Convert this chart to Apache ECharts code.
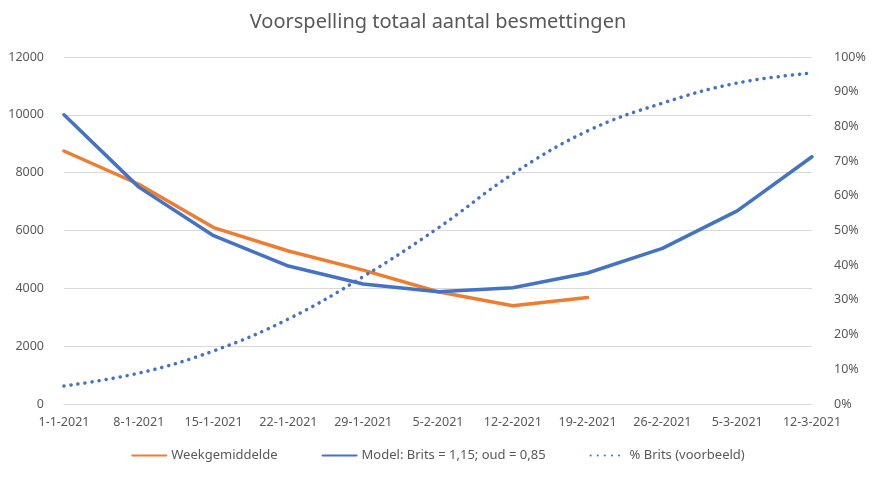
<!DOCTYPE html>
<html><head><meta charset="utf-8">
<script src="https://cdn.jsdelivr.net/npm/echarts@6/dist/echarts.min.js"></script>
<style>html,body{margin:0;padding:0;background:#fff}#c{width:876px;height:480px}</style>
</head><body><div id="c"></div>
<script>
const categories = ['1-1-2021','8-1-2021','15-1-2021','22-1-2021','29-1-2021','5-2-2021','12-2-2021','19-2-2021','26-2-2021','5-3-2021','12-3-2021'];
const weekgemiddelde = [8750, 7600, 6100, 5290, 4630, 3880, 3400, 3680, null, null, null];
const model = [10000, 7500, 5820, 4770, 4150, 3880, 4020, 4530, 5380, 6680, 8550];
const britsPct = [5.2, 8.9, 15.3, 24.5, 36.7, 50.7, 66.3, 78.7, 86.7, 92.5, 95.4];
const leftTicks = [0, 2000, 4000, 6000, 8000, 10000, 12000];

const font = 'Noto Sans';
const grey = '#595959';
const chart = echarts.init(document.getElementById('c'));
chart.setOption({
  animation: false,
  textStyle: {fontFamily: font},
  title: {text: 'Voorspelling totaal aantal besmettingen', left: 'center', top: 7,
    textStyle: {fontFamily: font, fontSize: 20, fontWeight: 'normal', color: grey}},
  grid: {left: 64, right: 64, top: 57, bottom: 76},
  legend: {bottom: 13, itemGap: 44, itemWidth: 34, itemHeight: 4,
    itemStyle: {opacity: 0},
    textStyle: {fontFamily: font, fontSize: 13, color: grey},
    data: ['Weekgemiddelde', 'Model: Brits = 1,15; oud = 0,85', '% Brits (voorbeeld)']},
  xAxis: {type: 'category', data: categories, boundaryGap: false,
    axisLine: {show: true, lineStyle: {color: '#d9d9d9'}}, axisTick: {show: false},
    axisLabel: {color: grey, fontSize: 12.5, margin: 12, fontFamily: font, interval: 0}},
  yAxis: [
    {type: 'value', min: leftTicks[0], max: leftTicks[leftTicks.length-1], interval: 2000,
      axisLabel: {color: grey, fontSize: 12.5, margin: 20, fontFamily: font, formatter: v => String(v)},
      splitLine: {lineStyle: {color: '#d9d9d9'}}, axisLine: {show: false}, axisTick: {show: false}},
    {type: 'value', min: 0, max: 100, interval: 10,
      axisLabel: {color: grey, fontSize: 12.5, margin: 22, fontFamily: font, formatter: '{value}%'},
      splitLine: {show: false}, axisLine: {show: false}, axisTick: {show: false}}
  ],
  series: [
    {name: 'Weekgemiddelde', type: 'line', data: weekgemiddelde, symbol: 'none',
      lineStyle: {color: '#ED7D31', width: 3.5, cap: 'round', join: 'round'}, itemStyle: {color: '#ED7D31'}},
    {name: 'Model: Brits = 1,15; oud = 0,85', type: 'line', data: model, symbol: 'none',
      lineStyle: {color: '#4472C4', width: 3.5, cap: 'round', join: 'round'}, itemStyle: {color: '#4472C4'}},
    {name: '% Brits (voorbeeld)', type: 'line', yAxisIndex: 1, data: britsPct, symbol: 'none', smooth: 0.4,
      lineStyle: {color: '#4472C4', width: 3.5, type: [0.1, 7], cap: 'round'}, itemStyle: {color: '#4472C4'}}
  ]
});
</script></body></html>
